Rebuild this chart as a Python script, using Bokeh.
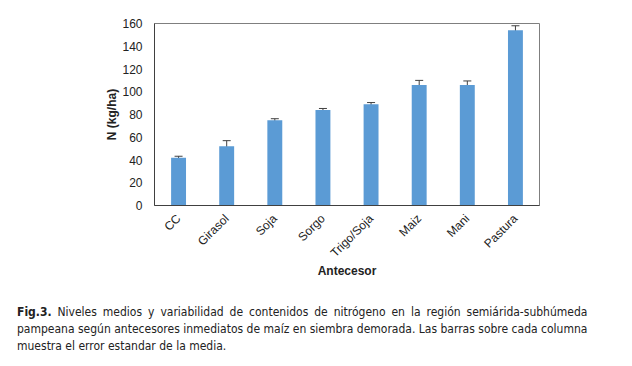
from bokeh.plotting import figure
from bokeh.models import ColumnDataSource, FactorRange, Range1d, Whisker, FixedTicker, Div
from bokeh.layouts import column
from bokeh.embed import file_html
from bokeh.resources import INLINE
import math

categories = ["CC", "Girasol", "Soja", "Sorgo", "Trigo/Soja", "Maiz", "Mani", "Pastura"]
n_values = [42, 52, 75, 84, 89, 106, 106, 154]
n_errors = [1.3, 5, 1.3, 1.3, 1.5, 4, 3.5, 4]
y_ticks = [0, 20, 40, 60, 80, 100, 120, 140, 160]

src = ColumnDataSource(dict(
    cat=categories,
    val=n_values,
    upper=[v + e for v, e in zip(n_values, n_errors)],
    lower=[v - e for v, e in zip(n_values, n_errors)],
))

p = figure(width=600, height=285, x_range=FactorRange(*categories),
           y_range=Range1d(0, 160), output_backend="svg", toolbar_location=None,
           min_border_left=154, min_border_right=61, min_border_top=23, min_border_bottom=80)

p.vbar(x="cat", top="val", width=0.31, source=src, fill_color="#5B9BD5", line_color=None)
w = Whisker(base="cat", upper="upper", lower="lower", source=src,
            line_color="#404040", line_width=1)
w.upper_head.size = 8
w.lower_head.size = 8
w.upper_head.line_color = "#404040"
w.lower_head.line_color = "#404040"
p.add_layout(w)

p.xgrid.visible = False
p.ygrid.visible = False
p.outline_line_color = "#7f7f7f"
p.outline_line_width = 1

p.yaxis.ticker = FixedTicker(ticks=y_ticks)
for ax in (p.xaxis, p.yaxis):
    ax.major_tick_line_color = None
    ax.minor_tick_line_color = None
    ax.axis_line_color = "#404040"
    ax.major_label_text_font = "Liberation Sans"
    ax.major_label_text_font_size = "12px"
    ax.major_label_text_color = "#222222"
    ax.axis_label_text_font = "Liberation Sans"
    ax.axis_label_text_font_size = "12px"
    ax.axis_label_text_font_style = "bold"
    ax.axis_label_text_color = "#222222"

p.yaxis.axis_label = "N (kg/ha)"
p.yaxis.major_label_standoff = 6
p.yaxis.axis_label_standoff = 0
p.xaxis.axis_label = "Antecesor"
p.xaxis.major_label_orientation = math.pi / 4
p.xaxis.major_label_standoff = 5
p.xaxis.axis_label_standoff = -4

cap_style = "font-family:'Liberation Sans Narrow','Arial Narrow','DejaVu Sans Condensed',sans-serif;font-size:12px;line-height:17px;color:#222;"
just = "text-align:justify;text-align-last:justify;"
html = (
    f"<div style=\"{cap_style}\">"
    f"<div style=\"{just}\"><b>Fig.3.</b> Niveles medios y variabilidad de contenidos de nitrógeno en la región semiárida-subhúmeda</div>"
    f"<div style=\"{just}\">pampeana según antecesores inmediatos de maíz en siembra demorada. Las barras sobre cada columna</div>"
    f"<div>muestra el error estandar de la media.</div>"
    "</div>"
)
cap = Div(text=html, width=606, margin=(19, 0, 0, 17))

layout = column(p, cap, spacing=0)
open("out.html", "w").write(file_html(layout, INLINE))
